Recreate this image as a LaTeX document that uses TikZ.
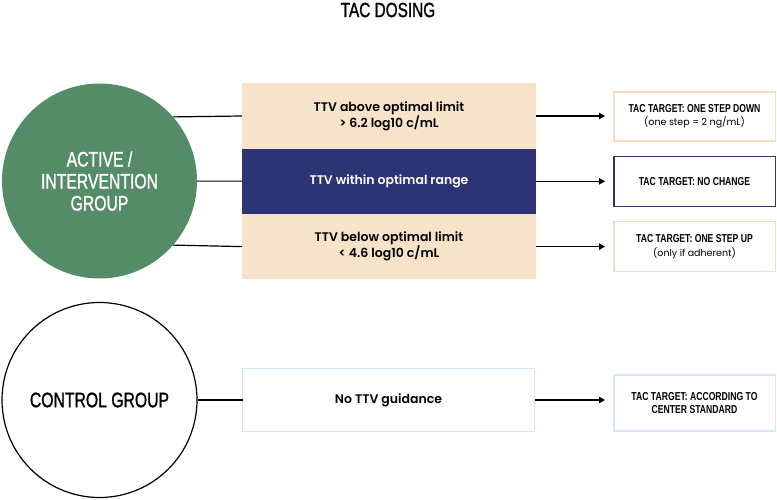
\documentclass[tikz,border=0pt]{standalone}
\usepackage{fontspec}
\setmainfont{Poppins}[BoldFont={Poppins SemiBold}]
\newfontfamily\narrowfont[FakeStretch=0.75,FakeBold=1.2]{Liberation Sans}
\newfontfamily\headfont[FakeStretch=0.75]{Liberation Sans Bold}
\usetikzlibrary{positioning,arrows.meta}
\definecolor{actgreen}{HTML}{548C68}
\definecolor{tanfill}{HTML}{F6E3CA}
\definecolor{tanline}{HTML}{F3DCC0}
\definecolor{navy}{HTML}{2C3476}
\definecolor{paleblue}{HTML}{D4E7FA}
\newcommand{\tacnote}[1]{{\normalfont\fontsize{9.5}{12}\selectfont #1}}

\begin{document}
\begin{tikzpicture}[x=1pt,y=-1pt,
			group/.style={circle,minimum size=195pt,inner sep=0pt,align=center,
				font=\narrowfont\fontsize{21}{22}\selectfont},
			band/.style={rectangle,minimum width=294pt,minimum height=65.3pt,inner sep=0pt,
				outer sep=0pt,align=center,font=\bfseries\fontsize{12.5}{16}\selectfont},
			target/.style={rectangle,draw,line width=1.5pt,minimum width=161.5pt,minimum height=49pt,
				inner sep=2pt,align=center,font=\headfont\fontsize{11.5}{13.5}\selectfont},
			link/.style={line width=1.2pt},
			goto/.style={line width=1.2pt,-{Stealth[length=6pt,width=6.5pt,inset=0pt]},shorten >=8pt}]
			\useasboundingbox (0,0) rectangle (777,500);
			\node (title) [font=\narrowfont\fontsize{20.5}{21}\selectfont] at (388,10) {TAC DOSING};

			% intervention arm
			\node (active) [group,fill=actgreen,text=white] at (99.5,181) {ACTIVE /\\INTERVENTION\\GROUP};
			\node (above) [band,fill=tanfill] at (389,116) {TTV above optimal limit\\\textgreater{} 6.2 log10 c/mL};
			\node (within) [band,fill=navy,text=white,below=0pt of above] {TTV within optimal range};
			\node (below) [band,fill=tanfill,below=0pt of within] {TTV below optimal limit\\\textless{} 4.6 log10 c/mL};

			\node (stepdown) [target,draw=tanline] at (694.5,116.5) {TAC TARGET: ONE STEP DOWN\\\tacnote{(one step = 2 ng/mL)}};
			\node (nochange) [target,draw=navy,minimum height=50pt] at (694.5,181.5) {TAC TARGET: NO CHANGE};
			\node (stepup) [target,draw=tanline,minimum height=50pt] at (694.5,246.5) {TAC TARGET: ONE STEP UP\\\tacnote{(only if adherent)}};

			% control arm
			\node (control) [group,draw,line width=1.2pt] at (99.5,400) {CONTROL GROUP};
			\node (noguide) [band,draw=paleblue,line width=1.5pt,minimum width=292pt,minimum height=63pt] at (388.5,400) {No TTV guidance};
			\node (center) [target,draw=paleblue,minimum height=56pt] at (694.5,403) {TAC TARGET: ACCORDING TO\\CENTER STANDARD};

			\draw[link] (active.41.8) -- (above.west);
			\draw[link] (active) -- (within);
			\draw[link] (active.-41.8) -- (below.west);
			\draw[link] (control) -- (noguide);

			\draw[goto] (above.east) -- (stepdown.west |- above.east);
			\draw[goto] (within.east) -- (nochange.west |- within.east);
			\draw[goto] (below.east) -- (stepup.west |- below.east);
			\draw[goto] (noguide.east) -- (center.west |- noguide.east);
		\end{tikzpicture}
\end{document}
